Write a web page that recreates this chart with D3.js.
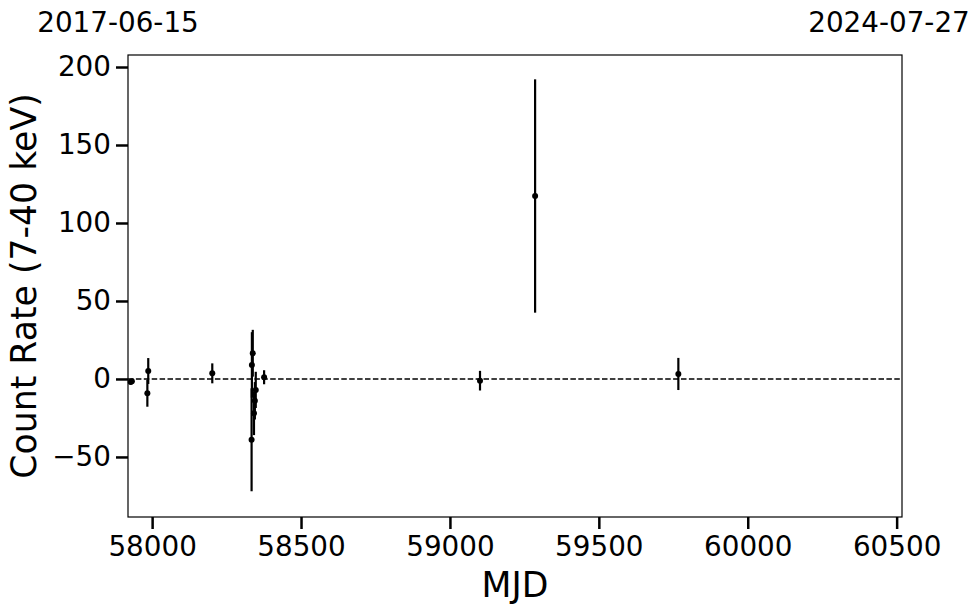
<!DOCTYPE html>
<html>
<head>
<meta charset="utf-8">
<script src="https://cdn.jsdelivr.net/npm/d3@7"></script>
<style>
  html, body { margin: 0; padding: 0; background: #fff; }
  svg { display: block; font-family: "DejaVu Sans", sans-serif; }
</style>
</head>
<body>
<svg id="chart" width="980" height="613"></svg>
<script>
// ---- data ----
const mjd  = [57928, 57932, 57987, 57984, 58202, 58334, 58335, 58338, 58342, 58345, 58348, 58376, 59101, 59286, 59767];
const rate = [-2.0, -1.5, 5.1, -9.2, 3.6, -39, 9.0, 16.5, -22, -14, -7, 1.1, -1.1, 117.3, 3.2];
const rateErr = [1.5, 1.5, 8.3, 8.6, 6.4, 33, 21, 15, 14, 12, 11.6, 4.5, 6.3, 74.8, 10.3];
const xTicks = [58000, 58500, 59000, 59500, 60000, 60500];
const yTicks = [-50, 0, 50, 100, 150, 200];
const xDomain = [57919, 60518];
const yDomain = [-88.5, 207.7];
const topLabels = ["2017-06-15", "2024-07-27"];
const xLabel = "MJD";
const yLabel = "Count Rate (7-40 keV)";

// ---- layout ----
const svg = d3.select("#chart");
const L = 128, R = 902, T = 55, B = 517;
const x = d3.scaleLinear().domain(xDomain).range([L, R]);
const y = d3.scaleLinear().domain(yDomain).range([B, T]);

// dashed zero line
svg.append("line")
  .attr("x1", L).attr("x2", R)
  .attr("y1", y(0)).attr("y2", y(0))
  .attr("stroke", "#000").attr("stroke-width", 1.5)
  .attr("stroke-dasharray", "5.5,2.4");

// data
const pts = mjd.map((m, i) => ({m, r: rate[i], e: rateErr[i]}));
const g = svg.append("g");
g.selectAll("line.err").data(pts).enter().append("line")
  .attr("class", "err")
  .attr("x1", d => x(d.m)).attr("x2", d => x(d.m))
  .attr("y1", d => y(d.r - d.e)).attr("y2", d => y(d.r + d.e))
  .attr("stroke", "#000").attr("stroke-width", 2.2);
g.selectAll("circle").data(pts).enter().append("circle")
  .attr("cx", d => x(d.m)).attr("cy", d => y(d.r)).attr("r", 3)
  .attr("fill", "#000");

// frame
svg.append("rect").attr("x", L).attr("y", T).attr("width", R - L).attr("height", B - T)
  .attr("fill", "none").attr("stroke", "#000").attr("stroke-width", 1.2);

// axes
const xAxis = d3.axisBottom(x).tickValues(xTicks).tickFormat(d3.format("d"))
  .tickSize(12).tickPadding(7);
const yAxis = d3.axisLeft(y).tickValues(yTicks).tickFormat(d => d < 0 ? "\u2212" + Math.abs(d) : d)
  .tickSize(12).tickPadding(5);
const gx = svg.append("g").attr("transform", `translate(0,${B})`).call(xAxis);
const gy = svg.append("g").attr("transform", `translate(${L},0)`).call(yAxis);
[gx, gy].forEach(a => {
  a.select(".domain").remove();
  a.selectAll(".tick line").attr("stroke", "#000").attr("stroke-width", 2.5);
  a.selectAll(".tick text").attr("fill", "#000")
    .style("font-family", "DejaVu Sans").style("font-size", "27.8px");
});

// axis labels
svg.append("text").attr("x", (L + R) / 2).attr("y", 597)
  .attr("text-anchor", "middle").style("font-size", "34.7px").text(xLabel);
svg.append("text").attr("transform", `translate(36,${(T + B) / 2}) rotate(-90)`)
  .attr("text-anchor", "middle").style("font-size", "34.7px").text(yLabel);

// top date labels
svg.append("text").attr("x", 118).attr("y", 32).attr("text-anchor", "middle")
  .style("font-size", "27.8px").text(topLabels[0]);
svg.append("text").attr("x", 889).attr("y", 32).attr("text-anchor", "middle")
  .style("font-size", "27.8px").text(topLabels[1]);
</script>
</body>
</html>
